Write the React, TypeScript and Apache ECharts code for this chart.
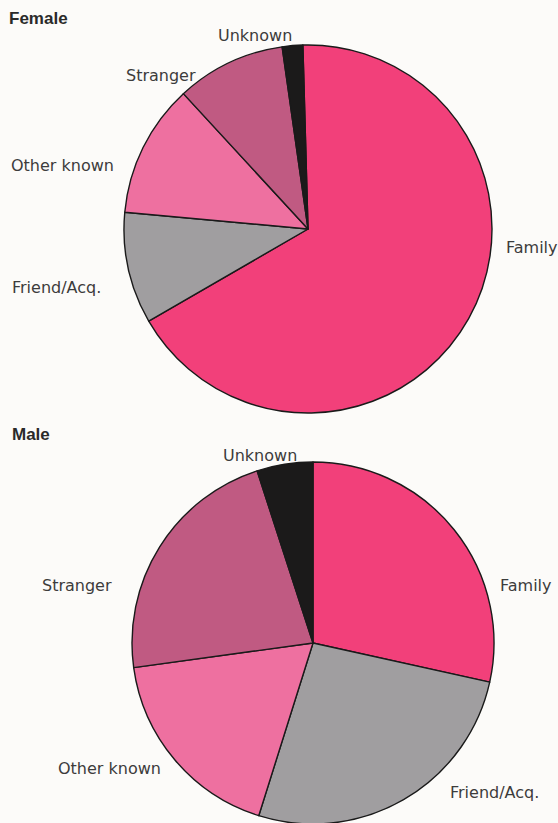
import React, { useEffect, useRef } from "react";
import * as echarts from "echarts";

// ---- data ----
const categories = ["Family", "Friend/Acq.", "Other known", "Stranger", "Unknown"];
const femaleValues = [67.1, 9.8, 11.7, 9.6, 1.8];
const maleValues = [28.5, 26.4, 18.0, 22.2, 5.0];
const panelTitles = ["Female", "Male"];

// ---- styling / layout ----
const sliceColors = ["#F2407A", "#A09EA0", "#EE70A0", "#C05A82", "#1B1A1A"];
const labelPositions: number[][][] = [
  [
    [506, 247],
    [12, 287],
    [11, 165],
    [126, 75],
    [218, 35],
  ],
  [
    [500, 585],
    [450, 792],
    [58, 768],
    [42, 585],
    [223, 455],
  ],
];

export default function App() {
  const ref = useRef<HTMLDivElement>(null);
  useEffect(() => {
    if (!ref.current) return;
    const chart = echarts.init(ref.current, null, { renderer: "svg" });
    const mkData = (vals: number[]) =>
      categories.map((name, i) => ({
        name,
        value: vals[i],
        itemStyle: { color: sliceColors[i] },
      }));
    const baseSeries = {
      type: "pie" as const,
      silent: true,
      clockwise: true,
      avoidLabelOverlap: false,
      itemStyle: { borderColor: "#1a1a1a", borderWidth: 1.4 },
      label: {
        show: true,
        position: "outside" as const,
        formatter: "{b}",
        color: "#3c3c3c",
        fontFamily: "DejaVu Sans",
        fontSize: 16,
      },
      labelLine: { show: false },
      emphasis: { disabled: true },
      labelLayout: (params: any) => {
        const p = labelPositions[params.seriesIndex][params.dataIndex];
        return { x: p[0], y: p[1], align: "left", verticalAlign: "middle" };
      },
    };
    chart.setOption({
      animation: false,
      backgroundColor: "#fcfbf9",
      title: [
        {
          text: panelTitles[0],
          left: 9,
          top: 10,
          padding: 0,
          textStyle: { fontFamily: "Liberation Sans", fontWeight: "bold", fontSize: 17, color: "#2a2a2a" },
        },
        {
          text: panelTitles[1],
          left: 12,
          top: 426,
          padding: 0,
          textStyle: { fontFamily: "Liberation Sans", fontWeight: "bold", fontSize: 17, color: "#2a2a2a" },
        },
      ],
      series: [
        {
          ...baseSeries,
          name: panelTitles[0],
          center: [308, 229],
          radius: 184,
          startAngle: 91.6,
          data: mkData(femaleValues),
        },
        {
          ...baseSeries,
          name: panelTitles[1],
          center: [313, 643],
          radius: 181,
          startAngle: 90,
          data: mkData(maleValues),
        },
      ],
    });
    return () => chart.dispose();
  }, []);
  return (
    <div
      ref={ref}
      style={{ position: "absolute", left: 0, top: 0, width: 558, height: 823 }}
    />
  );
}
